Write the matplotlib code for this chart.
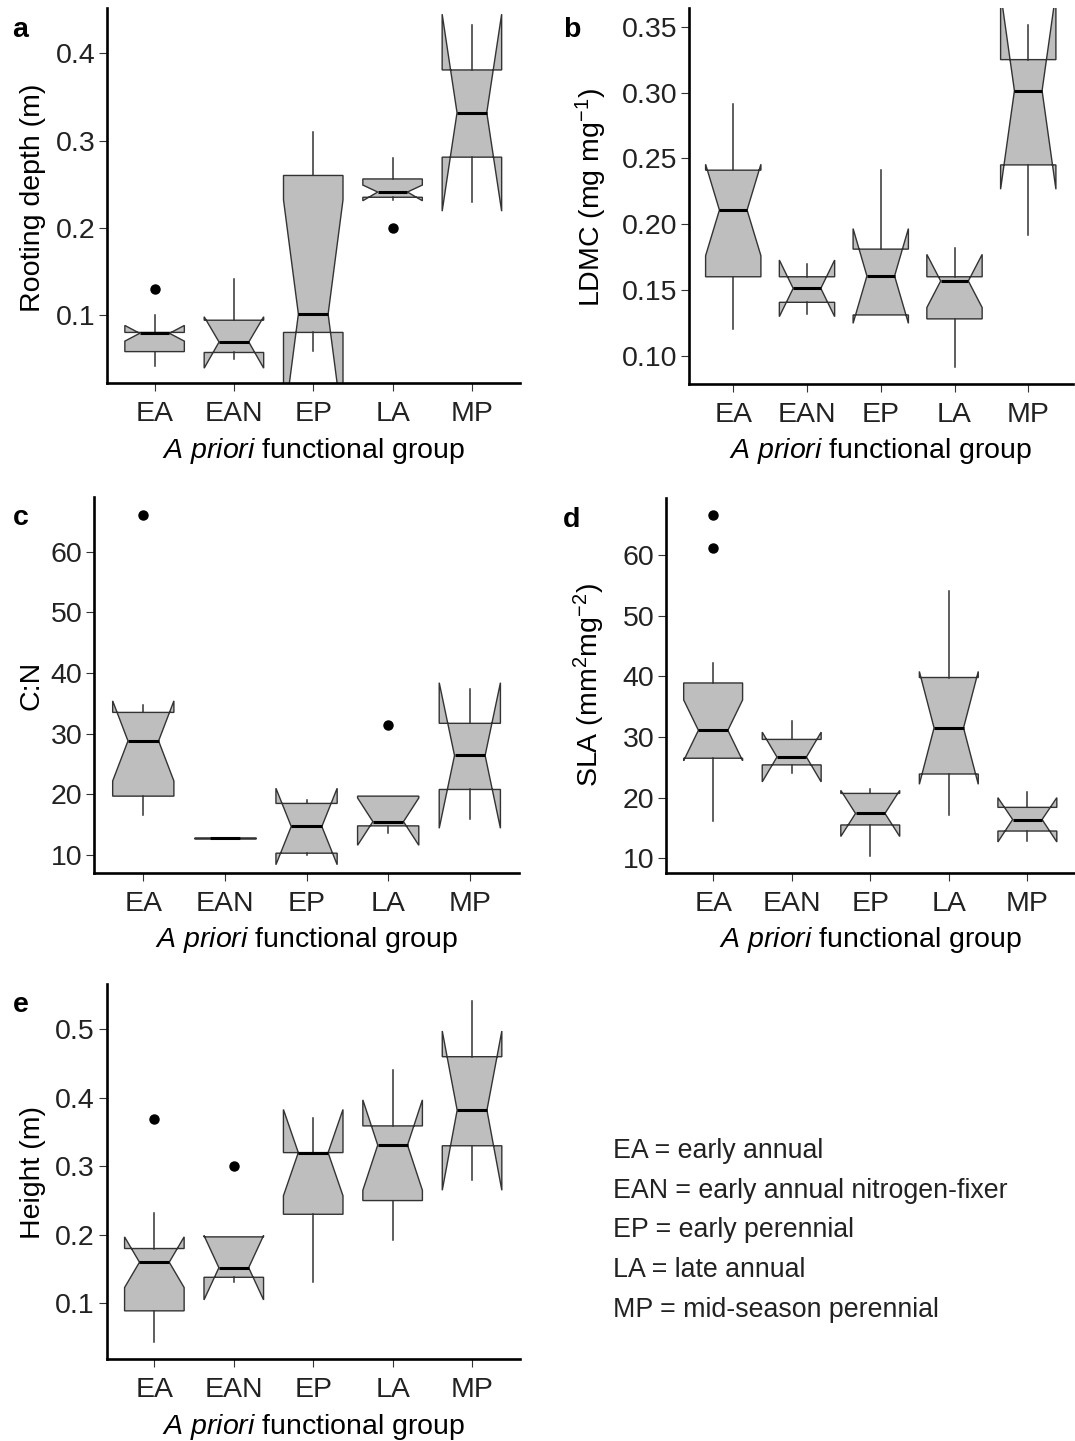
import matplotlib
matplotlib.use("Agg")
import matplotlib.pyplot as plt

plt.rcParams["font.family"] = ["Liberation Sans", "DejaVu Sans"]
plt.rcParams["mathtext.fontset"] = "custom"
plt.rcParams["mathtext.rm"] = "Liberation Sans"
plt.rcParams["mathtext.it"] = "Liberation Sans:italic"
plt.rcParams["mathtext.bf"] = "Liberation Sans:bold"

W, H = 1075, 1441

GRUPOS = ["EA", "EAN", "EP", "LA", "MP"]

# painel a - profundidade de raiz (m)
a_q1 = [0.058, 0.057, 0.080, 0.235, 0.281]
a_med = [0.079, 0.069, 0.101, 0.241, 0.332]
a_q3 = [0.080, 0.094, 0.260, 0.256, 0.381]
a_cilo = [0.070, 0.039, -0.030, 0.231, 0.219]
a_cihi = [0.088, 0.098, 0.232, 0.249, 0.445]
a_wlo = [0.041, 0.050, 0.059, 0.232, 0.230]
a_whi = [0.100, 0.141, 0.310, 0.280, 0.433]
a_out = [[0.13], [], [], [0.20], []]

# painel b - LDMC
b_q1 = [0.160, 0.1406, 0.131, 0.128, 0.245]
b_med = [0.2107, 0.1512, 0.1606, 0.1568, 0.3014]
b_q3 = [0.241, 0.160, 0.181, 0.160, 0.325]
b_cilo = [0.176, 0.1297, 0.1246, 0.1366, 0.2265]
b_cihi = [0.2455, 0.1727, 0.1966, 0.177, 0.376]
b_wlo = [0.120, 0.132, 0.131, 0.0916, 0.1917]
b_whi = [0.291, 0.170, 0.241, 0.1816, 0.351]
b_out = [[], [], [], [], []]

# painel c - C:N
c_q1 = [19.7, 12.8, 10.3, 14.8, 20.8]
c_med = [28.8, 12.8, 14.7, 15.5, 26.4]
c_q3 = [33.5, 12.8, 18.5, 19.7, 31.7]
c_cilo = [22.2, 12.8, 8.4, 11.6, 14.4]
c_cihi = [35.4, 12.8, 21.0, 19.4, 38.4]
c_wlo = [16.6, 12.8, 10.0, 13.6, 15.9]
c_whi = [34.7, 12.8, 19.1, 19.7, 37.3]
c_out = [[66.0], [], [], [31.4], []]

# painel d - SLA
d_q1 = [26.5, 25.4, 15.5, 23.9, 14.5]
d_med = [31.1, 26.7, 17.4, 31.5, 16.4]
d_q3 = [38.9, 29.6, 20.7, 39.8, 18.4]
d_cilo = [26.1, 22.6, 13.6, 22.2, 12.7]
d_cihi = [36.1, 30.8, 21.2, 40.8, 20.0]
d_wlo = [16.2, 24.0, 10.4, 17.1, 12.9]
d_whi = [42.2, 32.6, 21.5, 54.1, 20.9]
d_out = [[61.2, 66.6], [], [], [], []]

# painel e - altura (m)
e_q1 = [0.089, 0.138, 0.230, 0.250, 0.330]
e_med = [0.160, 0.152, 0.320, 0.331, 0.382]
e_q3 = [0.180, 0.197, 0.320, 0.359, 0.460]
e_cilo = [0.123, 0.105, 0.257, 0.265, 0.265]
e_cihi = [0.197, 0.199, 0.383, 0.397, 0.4975]
e_wlo = [0.044, 0.1315, 0.1315, 0.192, 0.280]
e_whi = [0.2314, 0.197, 0.370, 0.4406, 0.541]
e_out = [[0.369], [0.30], [], [], []]

LEGENDA = [
    "EA = early annual",
    "EAN = early annual nitrogen-fixer",
    "EP = early perennial",
    "LA = late annual",
    "MP = mid-season perennial",
]

COR_CAIXA = "#BEBEBE"
COR_LINHA = "#333333"
FS = 20.5
XLAB = r"$\mathit{A\ priori}$ functional group"


def stats_de(q1, med, q3, cilo, cihi, wlo, whi, out):
    st = []
    for i in range(len(q1)):
        st.append(dict(q1=q1[i], med=med[i], q3=q3[i], cilo=cilo[i], cihi=cihi[i],
                       whislo=wlo[i], whishi=whi[i], fliers=out[i]))
    return st


def painel(fig, px, st, ylim, yticks, yfmt, ylab, letra, ylab_x, ylab_y,
           xtl_base, xlab_base):
    x0, x1, ytop, ybot = px
    ax = fig.add_axes([x0 / W, 1 - ybot / H, (x1 - x0) / W, (ybot - ytop) / H])
    ax.bxp(st, positions=range(1, 6), widths=0.75, shownotches=True,
           showcaps=False, patch_artist=True,
           boxprops=dict(facecolor=COR_CAIXA, edgecolor=COR_LINHA, linewidth=1.0),
           whiskerprops=dict(color=COR_LINHA, linewidth=1.1),
           medianprops=dict(color="black", linewidth=2.2),
           flierprops=dict(marker="o", markerfacecolor="black",
                           markeredgecolor="black", markersize=6.5))
    ax.set_xlim(0.4, 5.6)
    ax.set_ylim(*ylim)
    ax.set_yticks(yticks)
    ax.set_yticklabels([yfmt.format(v) for v in yticks])
    ax.set_xticks(range(1, 6))
    ax.set_xticklabels(GRUPOS)
    for s in ["top", "right"]:
        ax.spines[s].set_visible(False)
    for s in ["left", "bottom"]:
        ax.spines[s].set_linewidth(1.9)
        ax.spines[s].set_color("black")
    ax.tick_params(axis="both", direction="out", length=5.5, width=0.8,
                   color=COR_LINHA, labelsize=FS, labelcolor="#222222")
    ax.tick_params(axis="y", pad=3)
    ax.tick_params(axis="x", pad=7.5)
    ax.set_ylabel(ylab, fontsize=FS, va="baseline", ha="center")
    ax.yaxis.set_label_coords(ylab_x / W, 1 - ylab_y / H, transform=fig.transFigure)
    ax.set_xlabel(XLAB, fontsize=FS, va="baseline", ha="center")
    ax.xaxis.set_label_coords((x0 + x1) / 2 / W, 1 - xlab_base / H,
                              transform=fig.transFigure)
    lx, ly = letra[1]
    fig.text(lx / W, 1 - ly / H, letra[0], fontsize=FS, fontweight="bold",
             ha="left", va="baseline")
    return ax


fig = plt.figure(figsize=(W / 100, H / 100), dpi=100)

painel(fig, (107, 519.5, 7.6, 383),
       stats_de(a_q1, a_med, a_q3, a_cilo, a_cihi, a_wlo, a_whi, a_out),
       (0.022, 0.4525), [0.1, 0.2, 0.3, 0.4], "{:.1f}", "Rooting depth (m)",
       ("a", (12, 36.7)), 40, 198, 422.7, 458)

painel(fig, (689, 1072.5, 8.3, 383.9),
       stats_de(b_q1, b_med, b_q3, b_cilo, b_cihi, b_wlo, b_whi, b_out),
       (0.0786, 0.364), [0.10, 0.15, 0.20, 0.25, 0.30, 0.35], "{:.2f}",
       r"LDMC (mg mg$^{-1}$)",
       ("b", (563, 36.7)), 600, 197.5, 422.7, 458)

painel(fig, (94.3, 518.8, 497.0, 873.2),
       stats_de(c_q1, c_med, c_q3, c_cilo, c_cihi, c_wlo, c_whi, c_out),
       (7.0, 69.0), [10, 20, 30, 40, 50, 60], "{:d}", "C:N",
       ("c", (13, 525)), 38, 685, 911.7, 947)

painel(fig, (666, 1074.5, 497.9, 872.9),
       stats_de(d_q1, d_med, d_q3, d_cilo, d_cihi, d_wlo, d_whi, d_out),
       (7.6, 69.4), [10, 20, 30, 40, 50, 60], "{:d}",
       r"SLA (mm$^{2}$mg$^{-2}$)",
       ("d", (563, 526.7)), 598, 685, 911.7, 947)

painel(fig, (106.7, 519.7, 984.1, 1358.8),
       stats_de(e_q1, e_med, e_q3, e_cilo, e_cihi, e_wlo, e_whi, e_out),
       (0.019, 0.566), [0.1, 0.2, 0.3, 0.4, 0.5], "{:.1f}", "Height (m)",
       ("e", (13, 1011.7)), 40, 1172.5, 1396.7, 1434)

# legenda dos grupos
for i, txt in enumerate(LEGENDA):
    fig.text(613.3 / W, 1 - (1158 + 39.7 * i) / H, txt, fontsize=19.3,
             color="#222222", ha="left", va="baseline")

fig.savefig("out.png", dpi=100)
